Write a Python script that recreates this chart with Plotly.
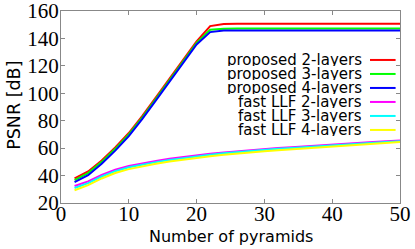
import plotly.graph_objects as go

pyramids = [2, 4, 6, 8, 10, 12, 14, 16, 18, 20, 22, 24, 26, 28, 30,
            32, 34, 36, 38, 40, 42, 44, 46, 48, 50]

proposed_2 = [38.0, 43.0, 51.0, 60.5, 71.0, 83.5, 97.0, 110.5, 124.0, 137.8,
              149.0, 150.6, 150.7, 150.7, 150.7, 150.7, 150.7, 150.7, 150.7, 150.7,
              150.7, 150.7, 150.7, 150.7, 150.7]
proposed_3 = [36.7, 41.8, 50.0, 59.5, 70.0, 82.5, 96.0, 109.5, 123.0, 136.8,
              146.3, 147.1, 147.2, 147.2, 147.2, 147.2, 147.2, 147.2, 147.2, 147.2,
              147.2, 147.2, 147.2, 147.2, 147.2]
proposed_4 = [35.2, 40.3, 48.7, 58.2, 68.8, 81.3, 94.8, 108.3, 121.8, 135.6,
              144.6, 145.7, 145.8, 145.8, 145.8, 145.8, 145.8, 145.8, 145.8, 145.8,
              145.8, 145.8, 145.8, 145.8, 145.8]
fastllf_2 = [32.4, 35.8, 40.5, 44.3, 47.0, 49.0, 50.7, 52.2, 53.6, 54.8,
             55.9, 56.9, 57.8, 58.6, 59.4, 60.1, 60.7, 61.4, 62.0, 62.6,
             63.2, 63.8, 64.4, 65.0, 65.6]
fastllf_3 = [30.9, 34.5, 39.3, 43.2, 46.0, 48.1, 49.8, 51.3, 52.7, 54.0,
             55.1, 56.2, 57.1, 57.9, 58.8, 59.5, 60.1, 60.8, 61.4, 62.0,
             62.6, 63.2, 63.8, 64.5, 65.1]
fastllf_4 = [29.3, 33.0, 37.9, 41.9, 44.7, 46.8, 48.6, 50.2, 51.6, 52.9,
             54.1, 55.1, 56.1, 56.9, 57.8, 58.5, 59.2, 59.9, 60.6, 61.2,
             61.8, 62.5, 63.1, 63.8, 64.4]

series_names = ["proposed 2-layers", "proposed 3-layers", "proposed 4-layers",
                "fast LLF 2-layers", "fast LLF 3-layers", "fast LLF 4-layers"]
series_values = [proposed_2, proposed_3, proposed_4, fastllf_2, fastllf_3, fastllf_4]
series_colors = ["#ff0000", "#00ff00", "#0000ff", "#ff00ff", "#00ffff", "#ffff00"]

x_ticks = [0, 10, 20, 30, 40, 50]
y_ticks = [20, 40, 60, 80, 100, 120, 140, 160]

fig = go.Figure()
for name, vals, col in zip(series_names, series_values, series_colors):
    fig.add_trace(go.Scatter(x=pyramids, y=vals, mode="lines", name=name,
                             line=dict(color=col, width=2), showlegend=False))

# manual legend (gnuplot style: right-aligned text, sample line to the right)
sans = "DejaVu Sans"
row0 = 0.745
step = 0.0729
for i, (name, col) in enumerate(zip(series_names, series_colors)):
    yy = row0 - i * step
    fig.add_annotation(xref="paper", yref="paper", x=0.8947, y=yy, text=name,
                       showarrow=False, xanchor="right", yanchor="middle",
                       height=13, valign="middle",
                       font=dict(family=sans, size=15, color="black"))
    fig.add_shape(type="line", xref="paper", yref="paper", x0=0.9115, x1=0.987,
                  y0=yy, y1=yy, line=dict(color=col, width=2))

fig.add_annotation(xref="paper", yref="paper", x=0.5, y=-0.172,
                   text="Number of pyramids", showarrow=False,
                   xanchor="center", yanchor="middle",
                   font=dict(family=sans, size=16, color="black"))
fig.add_annotation(xref="paper", yref="paper", x=-0.1395, y=0.51,
                   text="PSNR [dB]", showarrow=False, textangle=-90,
                   xanchor="center", yanchor="middle",
                   font=dict(family=sans, size=17.5, color="black"))

axis_common = dict(showgrid=False, zeroline=False, showline=True, linecolor="#888888",
                   linewidth=1, mirror="ticks", ticks="inside", ticklen=4,
                   tickcolor="#888888", tickwidth=1, automargin=False,
                   ticklabeloverflow="allow",
                   tickfont=dict(family="Liberation Serif", size=21, color="black"))
fig.update_xaxes(range=[0, 50], tickvals=x_ticks, ticktext=[str(v) for v in x_ticks],
                 ticklabelstandoff=-8, **axis_common)
fig.update_yaxes(range=[20, 160], tickvals=y_ticks, ticktext=[str(v) for v in y_ticks],
                 ticklabelstandoff=-3, **axis_common)

fig.update_layout(width=415, height=249, autosize=False,
                  margin=dict(l=61, r=15, t=11, b=46),
                  paper_bgcolor="white", plot_bgcolor="white")

fig.write_html("out.html", config={"displayModeBar": False},
               post_script="document.body.style.margin='0';document.body.style.overflow='hidden';")
